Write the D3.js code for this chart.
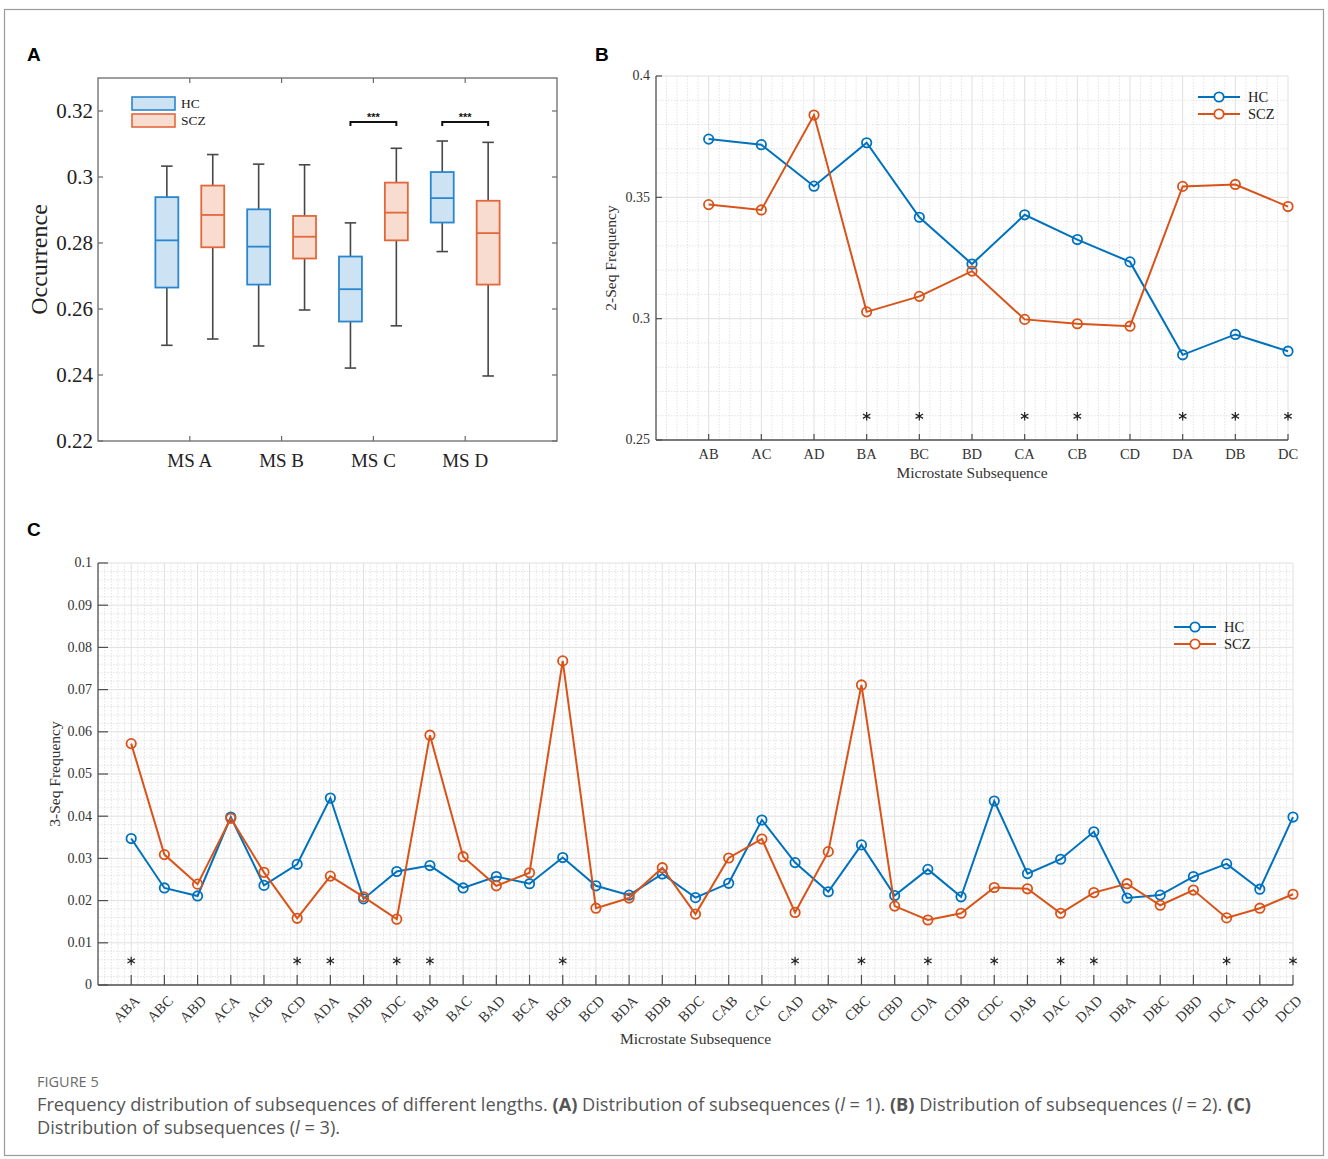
<!DOCTYPE html>
<html><head><meta charset="utf-8">
<script src="https://cdn.jsdelivr.net/npm/d3@7"></script>
<style>body{margin:0;background:#fff}</style>
</head><body><svg id="c" width="1328" height="1159"></svg>
<script>
// ---------- DATA ----------
const boxCats = ["MS A","MS B","MS C","MS D"];
// [whisker low, Q1, median, Q3, whisker high]
const hcBox = [
  [0.2490,0.2665,0.2808,0.2939,0.3033],
  [0.2488,0.2674,0.2789,0.2902,0.3039],
  [0.2421,0.2562,0.2660,0.2759,0.2861],
  [0.2774,0.2862,0.2936,0.3015,0.3109]
];
const sczBox = [
  [0.2509,0.2787,0.2885,0.2974,0.3068],
  [0.2597,0.2753,0.2819,0.2882,0.3037],
  [0.2549,0.2808,0.2892,0.2983,0.3087],
  [0.2397,0.2674,0.2830,0.2928,0.3105]
];
const boxSig = ["MS C","MS D"];
const boxYTicks = [0.22,0.24,0.26,0.28,0.30,0.32];
const boxYTickLabels = ["0.22","0.24","0.26","0.28","0.3","0.32"];

const seq2Cats = ["AB","AC","AD","BA","BC","BD","CA","CB","CD","DA","DB","DC"];
const seq2HC  = [0.3740,0.3717,0.3546,0.3725,0.3418,0.3225,0.3428,0.3326,0.3234,0.2851,0.2935,0.2866];
const seq2SCZ = [0.3470,0.3448,0.3839,0.3028,0.3092,0.3196,0.2997,0.2979,0.2969,0.3545,0.3553,0.3462];
const seq2Sig = ["BA","BC","CA","CB","DA","DB","DC"];
const seq2YTicks = [0.25,0.30,0.35,0.40];
const seq2YTickLabels = ["0.25","0.3","0.35","0.4"];

const seq3Cats = ["ABA","ABC","ABD","ACA","ACB","ACD","ADA","ADB","ADC","BAB","BAC","BAD","BCA","BCB","BCD","BDA","BDB","BDC",
                  "CAB","CAC","CAD","CBA","CBC","CBD","CDA","CDB","CDC","DAB","DAC","DAD","DBA","DBC","DBD","DCA","DCB","DCD"];
const seq3HC  = [0.0347,0.0230,0.0211,0.0398,0.0236,0.0286,0.0443,0.0204,0.0269,0.0283,0.0230,0.0257,0.0240,0.0302,0.0235,0.0213,0.0263,0.0207,
                 0.0241,0.0391,0.0290,0.0221,0.0332,0.0212,0.0274,0.0209,0.0436,0.0264,0.0298,0.0363,0.0206,0.0213,0.0257,0.0287,0.0227,0.0398];
const seq3SCZ = [0.0572,0.0309,0.0239,0.0395,0.0267,0.0158,0.0258,0.0209,0.0156,0.0592,0.0304,0.0235,0.0266,0.0768,0.0182,0.0206,0.0278,0.0168,
                 0.0301,0.0346,0.0172,0.0316,0.0711,0.0187,0.0154,0.0170,0.0231,0.0228,0.0170,0.0219,0.0240,0.0189,0.0225,0.0159,0.0182,0.0215];
const seq3Sig = ["ABA","ACD","ADA","ADC","BAB","BCB","CAD","CBC","CDA","CDC","DAC","DAD","DCA","DCD"];
const seq3YTicks = [0,0.01,0.02,0.03,0.04,0.05,0.06,0.07,0.08,0.09,0.1];
const seq3YTickLabels = ["0","0.01","0.02","0.03","0.04","0.05","0.06","0.07","0.08","0.09","0.1"];

const groups = ["HC","SCZ"];

// ---------- STYLE ----------
const BLUE = "#0072BD", ORANGE = "#D95319";
const SERIF = "'Liberation Serif','Times New Roman',serif";
const SANS = "'Liberation Sans',Arial,sans-serif";
const svg = d3.select("#c");

svg.append("rect").attr("x",4.5).attr("y",9.5).attr("width",1319).attr("height",1146)
  .attr("fill","none").attr("stroke","#9a9a9a").attr("stroke-width",1.2);

function panelLabel(t,x,y){
  svg.append("text").attr("x",x).attr("y",y).text(t)
    .attr("font-family",SANS).attr("font-weight","bold").attr("font-size",19).attr("fill","#000");
}
panelLabel("A",27,61); panelLabel("B",595,61); panelLabel("C",27,536);

// ---------- PANEL A ----------
(function(){
  const L=98,R=557,T=78,B=441;
  const g = svg.append("g");
  const x = d3.scaleLinear().domain([0,5]).range([L,R]);
  const y = d3.scaleLinear().domain([0.22,0.33]).range([B,T]);
  const xi = c => boxCats.indexOf(c)+1;
  const frameCol="#6a6a6a";
  g.append("rect").attr("x",L).attr("y",T).attr("width",R-L).attr("height",B-T)
    .attr("fill","none").attr("stroke",frameCol).attr("stroke-width",1.3);
  boxYTicks.forEach((v,i)=>{
    g.append("line").attr("x1",L).attr("x2",L+5).attr("y1",y(v)).attr("y2",y(v)).attr("stroke",frameCol).attr("stroke-width",1.2);
    g.append("line").attr("x1",R).attr("x2",R-5).attr("y1",y(v)).attr("y2",y(v)).attr("stroke",frameCol).attr("stroke-width",1.2);
    g.append("text").attr("x",L-5).attr("y",y(v)).attr("dy","0.35em").attr("text-anchor","end")
      .attr("font-family",SERIF).attr("font-size",21).attr("fill","#222").text(boxYTickLabels[i]);
  });
  boxCats.forEach((c,i)=>{
    const cx=x(i+1);
    g.append("line").attr("x1",cx).attr("x2",cx).attr("y1",B).attr("y2",B-5).attr("stroke",frameCol).attr("stroke-width",1.2);
    g.append("line").attr("x1",cx).attr("x2",cx).attr("y1",T).attr("y2",T+5).attr("stroke",frameCol).attr("stroke-width",1.2);
    g.append("text").attr("x",cx).attr("y",467).attr("text-anchor","middle")
      .attr("font-family",SERIF).attr("font-size",19).attr("fill","#222").text(c);
  });
  g.append("text").attr("transform",`translate(47,${(T+B)/2}) rotate(-90)`).attr("text-anchor","middle")
    .attr("font-family",SERIF).attr("font-size",24).attr("fill","#222").text("Occurrence");

  const specs=[{data:hcBox,off:-0.25,fill:"#cde3f3",stroke:"#2a86cf"},{data:sczBox,off:0.25,fill:"#f8dcd0",stroke:"#e2683c"}];
  const bw = x(0.25)-x(0);
  const cw = x(0.0625)-x(0);
  specs.forEach(s=>{
    s.data.forEach((d,i)=>{
      const cx=x(i+1+s.off);
      const wc="#474747";
      g.append("line").attr("x1",cx).attr("x2",cx).attr("y1",y(d[3])).attr("y2",y(d[4])).attr("stroke",wc).attr("stroke-width",1.6);
      g.append("line").attr("x1",cx).attr("x2",cx).attr("y1",y(d[0])).attr("y2",y(d[1])).attr("stroke",wc).attr("stroke-width",1.6);
      g.append("line").attr("x1",cx-cw).attr("x2",cx+cw).attr("y1",y(d[4])).attr("y2",y(d[4])).attr("stroke",wc).attr("stroke-width",1.6);
      g.append("line").attr("x1",cx-cw).attr("x2",cx+cw).attr("y1",y(d[0])).attr("y2",y(d[0])).attr("stroke",wc).attr("stroke-width",1.6);
      g.append("rect").attr("x",cx-bw/2).attr("y",y(d[3])).attr("width",bw).attr("height",y(d[1])-y(d[3]))
        .attr("fill",s.fill).attr("stroke",s.stroke).attr("stroke-width",1.8);
      g.append("line").attr("x1",cx-bw/2).attr("x2",cx+bw/2).attr("y1",y(d[2])).attr("y2",y(d[2])).attr("stroke",s.stroke).attr("stroke-width",1.8);
    });
  });
  boxSig.forEach(c=>{
    const i=xi(c);
    const x1=x(i-0.25), x2=x(i+0.25), yy=y(0.3167);
    g.append("path").attr("d",`M${x1},${yy+4}V${yy}H${x2}V${yy+4}`).attr("fill","none").attr("stroke","#111").attr("stroke-width",2);
    g.append("text").attr("x",(x1+x2)/2).attr("y",yy-1).attr("text-anchor","middle")
      .attr("font-family",SANS).attr("font-size",11).attr("font-weight","bold").attr("fill","#111").text("***");
  });
  specs.forEach((s,k)=>{
    const ly=97+k*17;
    g.append("rect").attr("x",132).attr("y",ly).attr("width",43).attr("height",13).attr("fill",s.fill).attr("stroke",s.stroke).attr("stroke-width",1.6);
    g.append("text").attr("x",181).attr("y",ly+11).attr("font-family",SERIF).attr("font-size",13.5).attr("fill","#222").text(groups[k]);
  });
})();

// ---------- line panel helper ----------
function linePanel(o){
  const {L,R,T,B,cats,hc,scz,sig,yDom,yTicks,yLabels,minorY,starY,tickLen,xLabelFn,yTitle,yTitleX,xTitleY,legX,legY,fs} = o;
  const g=svg.append("g");
  const x=d3.scaleLinear().domain([0,cats.length]).range([L,R]);
  const y=d3.scaleLinear().domain(yDom).range([B,T]);
  const xi=c=>cats.indexOf(c)+1;
  const gridG=g.append("g");
  for(let k=0;k<cats.length*5;k++){
    if(k%5===0) continue;
    const xv=x(k/5);
    gridG.append("line").attr("x1",xv).attr("x2",xv).attr("y1",T).attr("y2",B).attr("stroke","#dcdcdc").attr("stroke-width",0.8).attr("stroke-dasharray","1.5,1.5");
  }
  const nMinor=Math.round((yDom[1]-yDom[0])/minorY);
  for(let k=1;k<nMinor;k++){
    const v=yDom[0]+k*minorY;
    if(yTicks.some(t=>Math.abs(t-v)<minorY/10)) continue;
    gridG.append("line").attr("x1",L).attr("x2",R).attr("y1",y(v)).attr("y2",y(v)).attr("stroke","#dcdcdc").attr("stroke-width",0.8).attr("stroke-dasharray","1.5,1.5");
  }
  cats.forEach((c,i)=>{
    gridG.append("line").attr("x1",x(i+1)).attr("x2",x(i+1)).attr("y1",T).attr("y2",B).attr("stroke","#e0e0e0").attr("stroke-width",1);
  });
  yTicks.forEach(v=>{
    if(v===yDom[0]) return;
    gridG.append("line").attr("x1",L).attr("x2",R).attr("y1",y(v)).attr("y2",y(v)).attr("stroke","#e0e0e0").attr("stroke-width",1);
  });
  const ac="#4d4d4d";
  g.append("line").attr("x1",L).attr("x2",L).attr("y1",T).attr("y2",B).attr("stroke",ac).attr("stroke-width",1.3);
  g.append("line").attr("x1",L).attr("x2",R).attr("y1",B).attr("y2",B).attr("stroke",ac).attr("stroke-width",1.3);
  yTicks.forEach((v,i)=>{
    g.append("line").attr("x1",L).attr("x2",L+tickLen).attr("y1",y(v)).attr("y2",y(v)).attr("stroke",ac).attr("stroke-width",1.2);
    g.append("text").attr("x",L-6).attr("y",y(v)).attr("dy","0.32em").attr("text-anchor","end")
      .attr("font-family",SERIF).attr("font-size",fs).attr("fill","#333").text(yLabels[i]);
  });
  cats.forEach((c,i)=>{
    g.append("line").attr("x1",x(i+1)).attr("x2",x(i+1)).attr("y1",B).attr("y2",B-tickLen).attr("stroke",ac).attr("stroke-width",1.2);
    xLabelFn(g,x(i+1),c);
  });
  g.append("text").attr("transform",`translate(${yTitleX},${(T+B)/2}) rotate(-90)`).attr("text-anchor","middle")
    .attr("font-family",SERIF).attr("font-size",15.5).attr("fill","#333").text(yTitle);
  g.append("text").attr("x",(L+R)/2).attr("y",xTitleY).attr("text-anchor","middle")
    .attr("font-family",SERIF).attr("font-size",15.5).attr("fill","#333").text("Microstate Subsequence");
  const star=d3.symbol(d3.symbolAsterisk,52);
  sig.forEach(c=>{
    g.append("path").attr("d",star()).attr("transform",`translate(${x(xi(c))},${y(starY)})`)
      .attr("fill","none").attr("stroke","#222").attr("stroke-width",1.2);
  });
  const series=[{v:hc,col:BLUE},{v:scz,col:ORANGE}];
  const line=d3.line().x((d,i)=>x(i+1)).y(d=>y(d));
  series.forEach(s=>{
    g.append("path").attr("d",line(s.v)).attr("fill","none").attr("stroke",s.col).attr("stroke-width",2);
    g.selectAll(null).data(s.v).enter().append("circle").attr("cx",(d,i)=>x(i+1)).attr("cy",d=>y(d)).attr("r",4.7)
      .attr("fill","none").attr("stroke",s.col).attr("stroke-width",1.8);
  });
  series.forEach((s,k)=>{
    const ly=legY+k*17;
    g.append("line").attr("x1",legX).attr("x2",legX+42).attr("y1",ly).attr("y2",ly).attr("stroke",s.col).attr("stroke-width",2);
    g.append("circle").attr("cx",legX+21).attr("cy",ly).attr("r",4.7).attr("fill","#fff").attr("stroke",s.col).attr("stroke-width",1.8);
    g.append("text").attr("x",legX+50).attr("y",ly).attr("dy","0.35em").attr("font-family",SERIF).attr("font-size",14.5).attr("fill","#222").text(groups[k]);
  });
}

// ---------- PANEL B ----------
linePanel({L:656,R:1288,T:76,B:440,cats:seq2Cats,hc:seq2HC,scz:seq2SCZ,sig:seq2Sig,
  yDom:[0.25,0.4],yTicks:seq2YTicks,yLabels:seq2YTickLabels,minorY:0.01,starY:0.2598,tickLen:6,
  xLabelFn:(g,xx,c)=>g.append("text").attr("x",xx).attr("y",459).attr("text-anchor","middle")
     .attr("font-family",SERIF).attr("font-size",14.5).attr("fill","#333").text(c),
  yTitle:"2-Seq Frequency",yTitleX:616,xTitleY:478,legX:1198,legY:97,fs:14});

// ---------- PANEL C ----------
linePanel({L:98,R:1293,T:563,B:985,cats:seq3Cats,hc:seq3HC,scz:seq3SCZ,sig:seq3Sig,
  yDom:[0,0.1],yTicks:seq3YTicks,yLabels:seq3YTickLabels,minorY:0.002,starY:0.0057,tickLen:10,
  xLabelFn:(g,xx,c)=>g.append("text").attr("transform",`translate(${xx+6},${998}) rotate(-45)`).attr("text-anchor","end")
     .attr("dy","0.35em").attr("font-family",SERIF).attr("font-size",14.5).attr("fill","#333").text(c),
  yTitle:"3-Seq Frequency",yTitleX:60,xTitleY:1044,legX:1174,legY:627,fs:14});

// ---------- CAPTION ----------
const CAP="'Open Sans','Noto Sans',sans-serif";
svg.append("text").attr("x",37).attr("y",1087).attr("font-family",CAP).attr("font-size",14.5).attr("fill","#6b6b6b").text("FIGURE 5");
function capLine(parts,y){
  const t=svg.append("text").attr("x",37).attr("y",y).attr("font-family",CAP).attr("font-size",18.2).attr("fill","#555");
  parts.forEach(p=>{
    const s=t.append("tspan").text(p.t);
    if(p.b) s.attr("font-weight","bold");
    if(p.i) s.attr("font-style","italic");
  });
}
capLine([{t:"Frequency distribution of subsequences of different lengths. "},{t:"(A)",b:1},{t:" Distribution of subsequences ("},{t:"l",i:1},{t:" = 1). "},
  {t:"(B)",b:1},{t:" Distribution of subsequences ("},{t:"l",i:1},{t:" = 2). "},{t:"(C)",b:1}],1111);
capLine([{t:"Distribution of subsequences ("},{t:"l",i:1},{t:" = 3)."}],1134);
</script></body></html>
